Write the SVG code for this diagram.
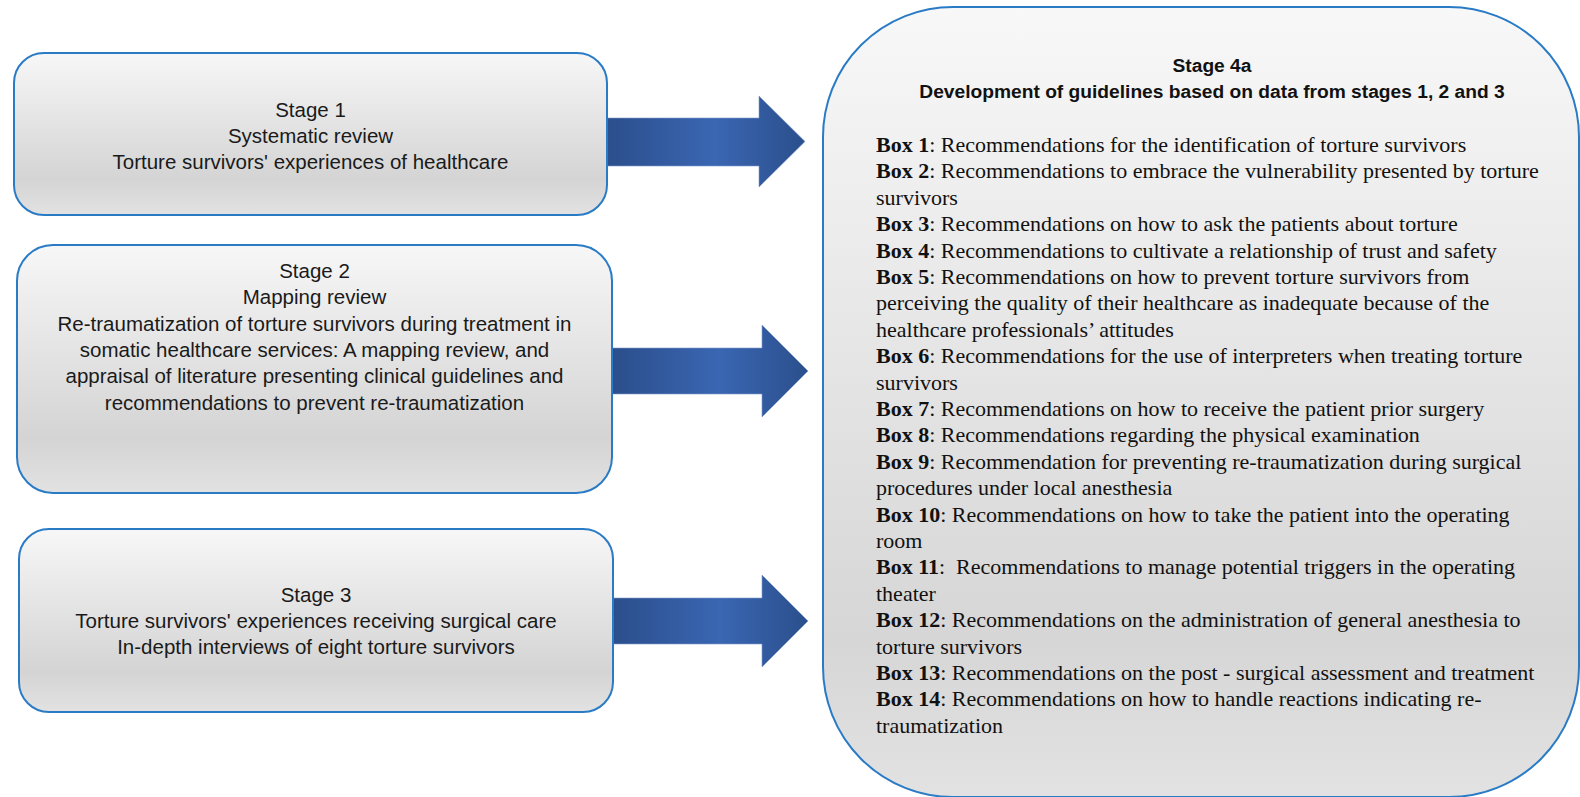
<svg xmlns="http://www.w3.org/2000/svg" width="1580" height="797" viewBox="0 0 1580 797">
<defs>
<linearGradient id="boxGrad" x1="0" y1="0" x2="0" y2="1">
<stop offset="0" stop-color="#f7f7f7"/>
<stop offset="0.78" stop-color="#d4d4d4"/>
<stop offset="1" stop-color="#e2e2e2"/>
</linearGradient>
<linearGradient id="bigGrad" x1="0" y1="0" x2="0" y2="1">
<stop offset="0" stop-color="#f8f8f8"/>
<stop offset="0.8" stop-color="#d6d6d6"/>
<stop offset="1" stop-color="#e2e2e2"/>
</linearGradient>
<linearGradient id="arrowGrad" x1="0" y1="0" x2="1" y2="0">
<stop offset="0" stop-color="#2b4e8b"/>
<stop offset="0.55" stop-color="#3a66b2"/>
<stop offset="1" stop-color="#2b4f8c"/>
</linearGradient>
</defs>
<style>
.box{fill:url(#boxGrad);stroke:#2a7bc6;stroke-width:2}
.big{fill:url(#bigGrad);stroke:#2a7bc6;stroke-width:2}
.arrow{fill:url(#arrowGrad);stroke:#7f9bcc;stroke-width:0.6}
.st{font-family:"Liberation Sans",Arial,sans-serif;font-size:20.5px;fill:#1a1a1a;text-anchor:middle}
.hd{font-family:"Liberation Sans",Arial,sans-serif;font-size:19.2px;font-weight:bold;fill:#111;text-anchor:middle}
.bx{font-family:"Liberation Serif","Times New Roman",serif;font-size:22px;fill:#111}
.b{font-weight:bold}
</style>

<g id="connectors">
<path class="arrow" d="M604,118 H759 V96 L805,141.5 L759,187 V166 H604 Z"/>
<path class="arrow" d="M611,348 H762 V325 L808,371 L762,417 V394 H611 Z"/>
<path class="arrow" d="M612,598 H762 V575 L808,621 L762,667 V644 H612 Z"/>
</g>

<g id="stage1">
<rect class="box" x="14" y="53" width="593" height="162" rx="30"/>
<text class="st" x="310.5" y="117">Stage 1</text>
<text class="st" x="310.5" y="143">Systematic review</text>
<text class="st" x="310.5" y="169">Torture survivors' experiences of healthcare</text>
</g>

<g id="stage2">
<rect class="box" x="17" y="245" width="595" height="248" rx="36"/>
<text class="st" x="314.5" y="278">Stage 2</text>
<text class="st" x="314.5" y="304">Mapping review</text>
<text class="st" x="314.5" y="331">Re-traumatization of torture survivors during treatment in</text>
<text class="st" x="314.5" y="357">somatic healthcare services: A mapping review, and</text>
<text class="st" x="314.5" y="383">appraisal of literature presenting clinical guidelines and</text>
<text class="st" x="314.5" y="410">recommendations to prevent re-traumatization</text>
</g>

<g id="stage3">
<rect class="box" x="19" y="529" width="594" height="183" rx="30"/>
<text class="st" x="316" y="602">Stage 3</text>
<text class="st" x="316" y="628">Torture survivors' experiences receiving surgical care</text>
<text class="st" x="316" y="654">In-depth interviews of eight torture survivors</text>
</g>

<g id="stage4a">
<rect class="big" x="823" y="7" width="756" height="790" rx="130"/>
<text class="hd" x="1212" y="72">Stage 4a</text>
<text class="hd" x="1212" y="98">Development of guidelines based on data from stages 1, 2 and 3</text>
<text class="bx" x="876" y="152"><tspan class="b">Box 1</tspan>: Recommendations for the identification of torture survivors</text>
<text class="bx" x="876" y="178.4"><tspan class="b">Box 2</tspan>: Recommendations to embrace the vulnerability presented by torture</text>
<text class="bx" x="876" y="204.8">survivors</text>
<text class="bx" x="876" y="231.2"><tspan class="b">Box 3</tspan>: Recommendations on how to ask the patients about torture</text>
<text class="bx" x="876" y="257.6"><tspan class="b">Box 4</tspan>: Recommendations to cultivate a relationship of trust and safety</text>
<text class="bx" x="876" y="284"><tspan class="b">Box 5</tspan>: Recommendations on how to prevent torture survivors from</text>
<text class="bx" x="876" y="310.4">perceiving the quality of their healthcare as inadequate because of the</text>
<text class="bx" x="876" y="336.8">healthcare professionals’ attitudes</text>
<text class="bx" x="876" y="363.2"><tspan class="b">Box 6</tspan>: Recommendations for the use of interpreters when treating torture</text>
<text class="bx" x="876" y="389.6">survivors</text>
<text class="bx" x="876" y="416"><tspan class="b">Box 7</tspan>: Recommendations on how to receive the patient prior surgery</text>
<text class="bx" x="876" y="442.4"><tspan class="b">Box 8</tspan>: Recommendations regarding the physical examination</text>
<text class="bx" x="876" y="468.8"><tspan class="b">Box 9</tspan>: Recommendation for preventing re-traumatization during surgical</text>
<text class="bx" x="876" y="495.2">procedures under local anesthesia</text>
<text class="bx" x="876" y="521.6"><tspan class="b">Box 10</tspan>: Recommendations on how to take the patient into the operating</text>
<text class="bx" x="876" y="548">room</text>
<text class="bx" x="876" y="574.4" xml:space="preserve"><tspan class="b">Box 11</tspan>:  Recommendations to manage potential triggers in the operating</text>
<text class="bx" x="876" y="600.8">theater</text>
<text class="bx" x="876" y="627.2"><tspan class="b">Box 12</tspan>: Recommendations on the administration of general anesthesia to</text>
<text class="bx" x="876" y="653.6">torture survivors</text>
<text class="bx" x="876" y="680"><tspan class="b">Box 13</tspan>: Recommendations on the post - surgical assessment and treatment</text>
<text class="bx" x="876" y="706.4"><tspan class="b">Box 14</tspan>: Recommendations on how to handle reactions indicating re-</text>
<text class="bx" x="876" y="732.8">traumatization</text>
</g>
</svg>
